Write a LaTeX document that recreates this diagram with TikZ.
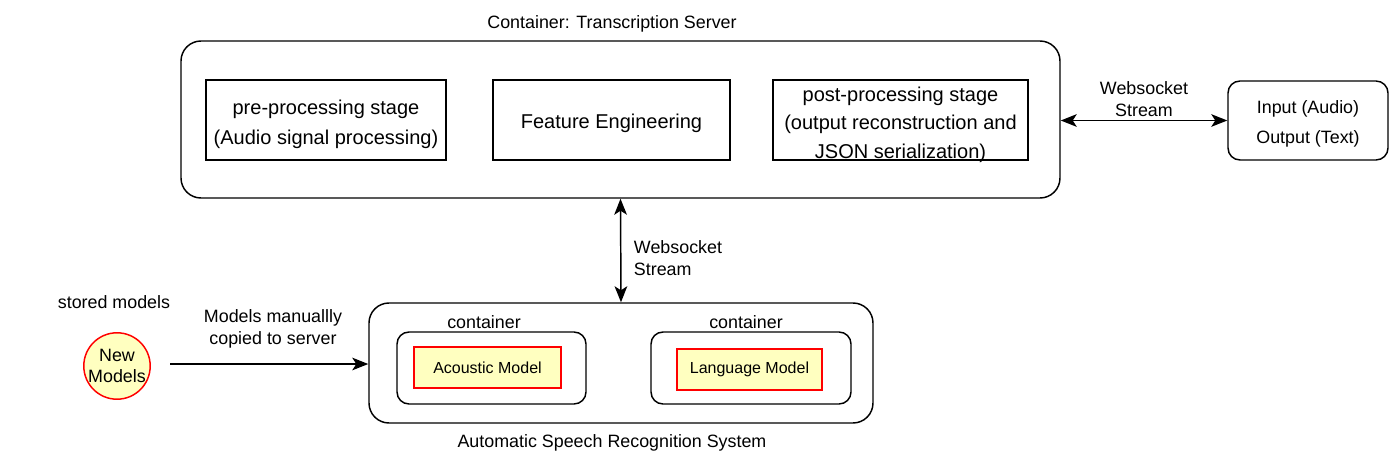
\documentclass[tikz,border=0pt]{standalone}
\usepackage{fontspec}
\setmainfont{Liberation Sans}
\usetikzlibrary{arrows.meta}
\definecolor{paleyellow}{HTML}{FFFFC0}
\begin{document}
\begin{tikzpicture}[x=0.75pt,y=-0.75pt,line width=1.1pt,
		font=\fontsize{13.4}{22}\selectfont,
		box/.style={draw,rectangle,inner sep=0pt},
		boxtext/.style={align=center,inner sep=0pt},
		roundbox/.style={draw,rectangle,rounded corners=15pt},
		model/.style={draw=red,fill=paleyellow,rectangle,inner sep=0pt,font=\fontsize{12}{14}\selectfont},
		tip/.tip={Stealth[length=12pt,width=9.5pt,inset=3pt]},
		arr/.style={tip-tip}]
		\useasboundingbox (0,0) rectangle (1390,460);
		% transcription server
		\node[roundbox,minimum width=659.25pt,minimum height=117.75pt] (srv) at (620.5,119.5) {};
		\node (srvlabel) at (612,24) {Container: Transcription Server};
		\node[box,minimum width=180pt,minimum height=60pt] (pre) at (326,120) {};
		\node[box,minimum width=177.75pt,minimum height=60pt] (feat) at (611.5,120) {};
		\node[box,minimum width=191.25pt,minimum height=60pt] (post) at (900.5,120) {};
		\node[boxtext,font=\fontsize{15}{22.5}\selectfont] (pretext) at ([yshift=-3pt]pre) {pre-processing stage\\(Audio signal processing)};
		\node[boxtext,font=\fontsize{15}{22}\selectfont] (feattext) at ([yshift=-2.5pt]feat) {Feature Engineering};
		\node[boxtext,font=\fontsize{15}{21.4}\selectfont] (posttext) at ([yshift=-3.5pt]post) {post-processing stage\\(output reconstruction and\\JSON serialization)};
		% input / output
		\node[roundbox,rounded corners=9pt,minimum width=120pt,minimum height=59.25pt] (io) at (1308,120.5) {};
		\node[boxtext,font=\fontsize{13.4}{22.5}\selectfont] (iotext) at ([yshift=-2.5pt]io) {Input (Audio)\\Output (Text)};
		\draw[arr] (io.west -| srv.east) -- (io.west);
		\node[align=center,font=\fontsize{13.4}{16}\selectfont] (wslabel) at (1144,99) {Websocket\\Stream};
		% speech recognition system
		\node[roundbox,minimum width=378pt,minimum height=90pt] (asr) at (621,363) {};
		\node (asrlabel) at (612,443) {Automatic Speech Recognition System};
		\node[roundbox,rounded corners=9pt,minimum width=141.75pt,minimum height=54pt] (contA) at (491.5,368) {};
		\node[roundbox,rounded corners=9pt,minimum width=150pt,minimum height=54pt] (contB) at (751,368) {};
		\node (contAlabel) at (484,322) {container};
		\node (contBlabel) at (746,322) {container};
		\node[model,minimum width=110.25pt,minimum height=30.75pt] (am) at (487.5,367.5) {Acoustic Model};
		\node[model,minimum width=108.75pt,minimum height=30.75pt] (lm) at (749.5,369.5) {Language Model};
		\draw[arr] (srv.south) -- (asr.north);
		\node[align=left,font=\fontsize{13.4}{16.5}\selectfont] (ws2label) at (678,258) {Websocket\\Stream};
		% stored models
		\node[circle,draw=red,fill=paleyellow,minimum size=49.5pt,inner sep=0pt,align=center,font=\fontsize{13.4}{15.75}\selectfont] (new) at (117,366) {New\\Models};
		\node (storedlabel) at (114,302) {stored models};
		\coordinate (src) at (170,364);
		\draw[-tip] (src) -- (src -| asr.west);
		\node[align=center,font=\fontsize{13.4}{16.5}\selectfont] (copylabel) at (273,329) {Models manuallly\\copied to server};
\end{tikzpicture}
\end{document}
